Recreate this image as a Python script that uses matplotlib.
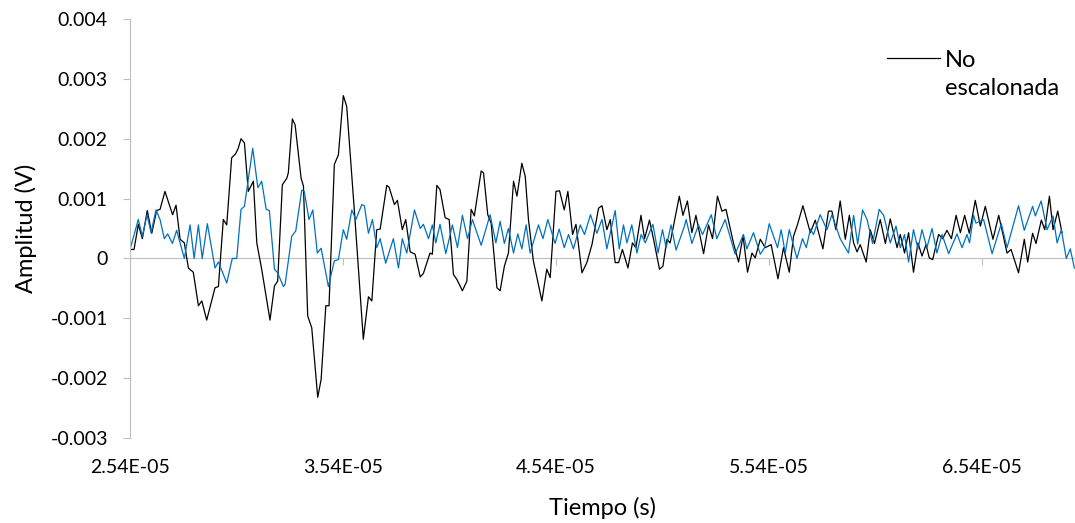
import matplotlib
matplotlib.use("Agg")
import matplotlib.pyplot as plt
from matplotlib.ticker import FuncFormatter, MultipleLocator, FixedLocator

# --- data (time in microseconds, amplitude in millivolts) ---
t_black_us = [25.40, 25.59, 25.79, 25.98, 26.21, 26.42, 26.65, 26.81, 27.04, 27.40,
              27.56, 27.75, 27.95, 28.14, 28.37, 28.61, 28.77, 29.00, 29.39, 29.55,
              29.78, 29.94, 30.17, 30.36, 30.48, 30.61, 30.77, 30.95, 31.19, 31.35,
              31.58, 31.97, 32.18, 32.33, 32.55, 32.76, 32.83, 33.02, 33.15, 33.43,
              33.54, 33.74, 33.93, 34.21, 34.37, 34.59, 34.74, 34.99, 35.18, 35.41,
              35.57, 35.96, 36.35, 36.59, 36.75, 36.98, 37.14, 37.45, 37.56, 37.81,
              37.95, 38.18, 38.34, 38.55, 38.78, 39.02, 39.17, 39.48, 39.59, 39.80,
              39.95, 40.19, 40.38, 40.58, 40.74, 41.00, 41.21, 41.41, 41.56, 41.88,
              41.99, 42.19, 42.35, 42.62, 42.77, 42.97, 43.16, 43.40, 43.56, 43.79,
              43.95, 44.10, 44.33, 44.73, 44.96, 45.12, 45.39, 45.56, 45.78, 45.95,
              46.17, 46.33, 46.61, 46.84, 47.08, 47.39, 47.55, 47.78, 47.94, 48.17,
              48.33, 48.51, 48.77, 48.98, 49.14, 49.38, 49.55, 49.78, 49.97, 50.25,
              50.41, 50.60, 50.75, 51.18, 51.35, 51.56, 51.77, 51.96, 52.32, 52.55,
              52.74, 52.97, 53.18, 53.37, 53.72, 53.96, 54.17, 54.38, 54.59, 54.74,
              54.98, 55.21, 55.49, 55.81, 56.07, 56.34, 56.54, 56.73, 56.98, 57.33,
              57.56, 57.92, 58.18, 58.34, 58.53, 58.73, 58.97, 59.16, 59.36, 59.52,
              59.67, 59.95, 60.14, 60.34, 60.61, 60.85, 61.08, 61.40, 61.55, 61.75,
              61.94, 62.17, 62.38, 62.57, 62.76, 62.91, 63.07, 63.35, 63.54, 63.74,
              63.95, 64.17, 64.37, 64.57, 64.79, 65.07, 65.31, 65.54, 65.90, 66.17,
              66.56, 66.75, 67.10, 67.37, 67.53, 67.76, 67.92, 68.17, 68.33, 68.55,
              68.72, 68.94, 69.14]
v_black_mv = [0.15, 0.15, 0.57, 0.33, 0.80, 0.42, 0.80, 0.82, 1.12, 0.73,
              0.89, 0.32, 0.26, -0.16, -0.23, -0.79, -0.71, -1.03, -0.49, -0.47,
              0.65, 0.56, 1.68, 1.75, 1.84, 2.00, 1.93, 1.12, 1.29, 0.26,
              -0.18, -1.03, -0.46, -0.38, 1.23, 1.34, 1.43, 2.33, 2.23, 1.34,
              1.21, -0.96, -1.16, -2.32, -2.02, -0.79, -0.79, 1.57, 1.73, 2.72,
              2.54, 0.65, -1.35, -0.64, -0.71, 0.48, 0.49, 1.22, 1.19, 0.90,
              0.97, 0.48, 0.65, 0.11, 0.07, -0.31, -0.25, 0.09, 0.07, 1.22,
              1.15, 0.68, 0.65, -0.27, -0.35, -0.54, -0.38, 0.82, 0.71, 1.46,
              1.43, 0.73, 0.59, -0.49, -0.54, -0.13, 0.09, 1.29, 1.04, 1.59,
              1.37, 0.65, -0.04, -0.71, -0.18, -0.32, 1.12, 1.13, 0.81, 1.12,
              0.40, 0.57, -0.24, -0.07, 0.23, 0.84, 0.88, 0.48, 0.65, -0.07,
              -0.07, 0.15, -0.16, 0.26, 0.18, 0.72, 0.33, 0.64, 0.32, -0.18,
              -0.13, 0.32, 0.26, 1.04, 0.72, 0.96, 0.43, 0.72, 0.08, 0.56,
              0.33, 1.04, 0.79, 0.82, 0.26, -0.06, 0.38, -0.23, 0.09, 0.01,
              0.32, 0.18, 0.23, -0.34, 0.18, -0.23, 0.37, 0.57, 0.88, 0.43,
              0.64, 0.16, 0.79, 0.79, 0.48, 0.96, 0.32, 0.72, 0.26, 0.11,
              0.23, -0.06, 0.48, 0.25, 0.65, 0.25, 0.66, 0.18, 0.40, 0.09,
              0.43, -0.23, 0.26, 0.04, 0.23, 0.01, -0.02, 0.40, 0.33, 0.47,
              0.33, 0.72, 0.43, 0.72, 0.42, 0.97, 0.54, 0.87, 0.32, 0.72,
              0.09, 0.15, -0.24, 0.32, -0.06, 0.42, 0.25, 0.64, 0.48, 1.04,
              0.48, 0.79, 0.43]

t_blue_us = [25.40, 25.79, 25.98, 26.20, 26.39, 26.62, 26.81, 27.01, 27.17, 27.39,
             27.59, 27.95, 28.22, 28.41, 28.61, 28.79, 29.03, 29.39, 29.55, 29.94,
             30.20, 30.41, 30.61, 30.77, 31.16, 31.40, 31.58, 31.79, 31.94, 32.18,
             32.33, 32.60, 32.68, 32.99, 33.18, 33.46, 33.58, 33.80, 33.98, 34.19,
             34.37, 34.71, 34.99, 35.18, 35.41, 35.57, 35.81, 36.00, 36.28, 36.40,
             36.59, 36.78, 36.98, 37.14, 37.40, 37.76, 38.00, 38.18, 38.39, 38.75,
             39.02, 39.17, 39.41, 39.59, 39.75, 39.95, 40.22, 40.53, 40.77, 41.00,
             41.24, 41.47, 41.88, 42.30, 42.57, 42.77, 42.97, 43.16, 43.40, 43.60,
             43.79, 43.99, 44.18, 44.57, 44.78, 45.01, 45.35, 45.54, 45.78, 45.98,
             46.21, 46.53, 46.73, 47.01, 47.31, 47.55, 47.78, 48.17, 48.36, 48.56,
             48.72, 48.95, 49.19, 49.39, 49.58, 49.94, 50.18, 50.39, 50.56, 50.79,
             51.03, 51.42, 51.50, 51.77, 52.08, 52.27, 52.68, 52.94, 53.33, 53.80,
             54.19, 54.35, 54.66, 54.98, 55.18, 55.40, 55.79, 55.96, 56.15, 56.34,
             56.70, 56.96, 57.14, 57.33, 57.48, 57.79, 58.11, 58.34, 58.73, 59.12,
             59.36, 59.55, 59.78, 59.99, 60.25, 60.56, 60.77, 61.08, 61.35, 61.55,
             61.75, 61.94, 62.17, 62.38, 62.57, 62.80, 63.04, 63.27, 63.51, 63.82,
             64.21, 64.45, 64.68, 64.80, 64.99, 65.10, 65.46, 65.86, 66.29, 66.56,
             67.10, 67.37, 67.76, 67.89, 68.16, 68.44, 68.72, 68.91, 69.11, 69.34,
             69.53, 69.72]
v_blue_mv = [0.15, 0.65, 0.37, 0.73, 0.43, 0.81, 0.65, 0.33, 0.41, 0.25,
             0.47, 0.00, 0.56, 0.00, 0.56, 0.00, 0.58, -0.16, -0.06, -0.41,
             0.00, 0.00, 0.82, 0.87, 1.84, 1.18, 1.29, 0.82, 0.80, -0.18,
             -0.24, -0.47, -0.43, 0.37, 0.46, 1.14, 1.12, 0.65, 0.81, 0.09,
             0.17, -0.47, -0.04, -0.02, 0.48, 0.32, 0.81, 0.65, 0.90, 0.88,
             0.42, 0.65, 0.18, 0.33, -0.08, 0.33, -0.16, 0.33, 0.09, 0.81,
             0.50, 0.57, 0.33, 0.56, 0.26, 0.57, 0.08, 0.56, 0.18, 0.72,
             0.33, 0.65, 0.22, 0.73, 0.26, 0.62, 0.25, 0.50, 0.09, 0.41,
             0.16, 0.56, 0.09, 0.56, 0.33, 0.65, 0.25, 0.49, 0.18, 0.40,
             0.16, 0.56, 0.40, 0.73, 0.42, 0.65, 0.16, 0.80, 0.16, 0.56,
             0.26, 0.56, 0.09, 0.40, 0.26, 0.57, 0.09, 0.48, 0.18, 0.56,
             0.14, 0.54, 0.65, 0.25, 0.56, 0.40, 0.73, 0.33, 0.65, 0.07,
             0.40, 0.16, 0.43, 0.07, 0.18, 0.58, 0.18, 0.48, 0.09, 0.48,
             0.00, 0.33, 0.18, 0.49, 0.40, 0.73, 0.48, 0.73, 0.33, 0.09,
             0.72, 0.24, 0.81, 0.65, 0.25, 0.82, 0.72, 0.26, 0.54, 0.18,
             0.40, -0.06, 0.48, 0.16, 0.48, 0.18, 0.50, 0.09, 0.40, 0.08,
             0.41, 0.18, 0.40, 0.26, 0.72, 0.59, 0.65, 0.08, 0.58, 0.18,
             0.88, 0.47, 0.87, 0.71, 0.96, 0.48, 0.71, 0.26, 0.48, 0.00,
             0.16, -0.16]

x_ticks = [2.54e-5, 3.54e-5, 4.54e-5, 5.54e-5, 6.54e-5]
legend_lines = ["No", "escalonada"]

# convert to seconds / volts
t_black = [t * 1e-6 for t in t_black_us]
v_black = [v * 1e-3 for v in v_black_mv]
t_blue = [t * 1e-6 for t in t_blue_us]
v_blue = [v * 1e-3 for v in v_blue_mv]

plt.rcParams['font.family'] = ['Lato', 'DejaVu Sans']
plt.rcParams['font.size'] = 14

grey = '#BFBFBF'
fig = plt.figure(figsize=(10.75, 5.23), dpi=100)
ax = fig.add_axes([130 / 1075, 1 - 438 / 523, 945 / 1075, 419 / 523])

ax.plot(t_black, v_black, color='black', lw=0.9, label=legend_lines[0])
ax.plot(t_blue, v_blue, color='#0070C0', lw=0.9)

ax.set_xlim(2.54e-5, 6.975e-5)
ax.set_ylim(-0.003, 0.004)

# y axis
ax.yaxis.set_major_locator(MultipleLocator(0.001))
ax.yaxis.set_major_formatter(FuncFormatter(lambda v, p: '0' if abs(v) < 1e-9 else f'{v:.3f}'))
ax.tick_params(axis='y', colors=grey, labelcolor='black', length=5, width=0.8, pad=11)
ax.spines['left'].set_color(grey)
ax.spines['left'].set_linewidth(0.8)
for s in ['top', 'right', 'bottom']:
    ax.spines[s].set_visible(False)

# x tick labels at the bottom, no tick marks there
ax.xaxis.set_major_locator(FixedLocator(x_ticks))
ax.xaxis.set_major_formatter(FuncFormatter(lambda v, p: f'{v:.2E}'))
ax.tick_params(axis='x', length=0, pad=15)

# zero line with its own tick marks
zero_ax = ax.secondary_xaxis(0, transform=ax.transData)
zero_ax.set_xticks(x_ticks)
zero_ax.set_xticklabels([])
zero_ax.tick_params(axis='x', colors=grey, length=5, width=0.8)
zero_ax.spines['bottom'].set_color(grey)
zero_ax.spines['bottom'].set_linewidth(0.8)

ax.set_xlabel('Tiempo (s)', fontsize=17)
ax.set_ylabel('Amplitud (V)', fontsize=17)
ax.xaxis.set_label_coords(0.5, -0.14)
ax.yaxis.set_label_coords(-0.098, 0.5)

# legend: handle next to the first line, label wraps onto a second line
leg = ax.legend(loc='center left', bbox_to_anchor=(0.801, 0.902), frameon=False,
                fontsize=17, handlelength=2.25, handletextpad=0.22,
                borderaxespad=0, borderpad=0)
ax.text(0.862, 0.835, legend_lines[1], transform=ax.transAxes, fontsize=17,
        ha='left', va='center')

fig.savefig('out.png', dpi=100)
